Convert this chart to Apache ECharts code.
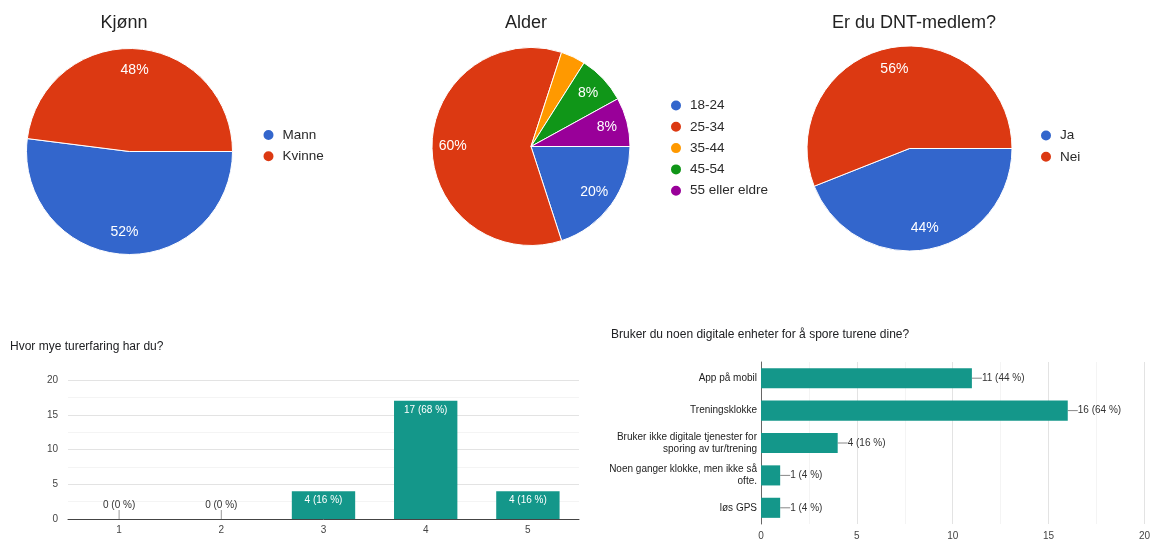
<!DOCTYPE html>
<html>
<head>
<meta charset="utf-8">
<script src="https://cdn.jsdelivr.net/npm/echarts@6/dist/echarts.min.js"></script>
<style>
  html, body { margin: 0; padding: 0; background: #fff; }
  #main { width: 1153px; height: 541px; }
</style>
</head>
<body>
<div id="main"></div>
<script>
// Survey results: number of respondents and answer counts per question
const respondents = 25;

const genderLabels = ['Mann', 'Kvinne'];
const genderCounts = [13, 12];

const ageLabels = ['18-24', '25-34', '35-44', '45-54', '55 eller eldre'];
const ageCounts = [5, 15, 1, 2, 2];

const memberLabels = ['Ja', 'Nei'];
const memberCounts = [11, 14];

const experienceLevels = ['1', '2', '3', '4', '5'];
const experienceCounts = [0, 0, 4, 17, 4];

const trackingOptions = [
  'App på mobil',
  'Treningsklokke',
  'Bruker ikke digitale tjenester for\nsporing av tur/trening',
  'Noen ganger klokke, men ikke så\nofte.',
  'løs GPS'
];
const trackingCounts = [11, 16, 4, 1, 1];

const FONT = '"Liberation Sans", Arial, sans-serif';
const PIE_COLORS = ['#3366cc', '#dc3912', '#ff9900', '#109618', '#990099'];
const BAR_COLOR = '#14978a';

const chart = echarts.init(document.getElementById('main'), null, { renderer: 'canvas' });

// Pie with percent labels pushed out to about three quarters of the radius
function pieSeries(names, counts, cx, cy, r) {
  return {
    type: 'pie',
    center: [cx, cy],
    radius: r,
    startAngle: 0,
    clockwise: true,
    animation: false,
    emphasis: { disabled: true },
    minShowLabelAngle: 20,
    itemStyle: { borderColor: '#fff', borderWidth: 1 },
    data: names.map((n, i) => ({ name: n, value: counts[i], itemStyle: { color: PIE_COLORS[i] } })),
    label: {
      show: true,
      position: 'inside',
      color: '#fff',
      fontSize: 14,
      fontFamily: FONT,
      formatter: p => Math.round(p.percent) + '%'
    },
    labelLine: { show: false },
    labelLayout: p => {
      const lx = p.labelRect.x + p.labelRect.width / 2;
      const ly = p.labelRect.y + p.labelRect.height / 2;
      const k = 1.49;
      return { x: cx + (lx - cx) * k, y: cy + (ly - cy) * k, align: 'center', verticalAlign: 'middle' };
    }
  };
}

function pieLegend(names, left, top) {
  return {
    data: names,
    orient: 'vertical',
    left: left,
    top: top,
    padding: 0,
    icon: 'circle',
    itemWidth: 12,
    itemHeight: 12,
    itemGap: 7.3,
    selectedMode: false,
    textStyle: { fontSize: 13.5, color: '#2a2a2a', fontFamily: FONT, padding: [0, 0, 0, 3] }
  };
}

const pctLabel = p => p.value + ' (' + Math.round(p.value / respondents * 100) + ' %)';
const gridLine = { show: true, lineStyle: { color: '#e3e3e3', width: 1 } };
const minorGridLine = { show: true, lineStyle: { color: '#f4f4f4', width: 1 } };
const axisText = { fontSize: 10, color: '#444', fontFamily: FONT };
const pieTitleStyle = { fontSize: 18, fontWeight: 'normal', color: '#222', fontFamily: FONT };
const barTitleStyle = { fontSize: 12, fontWeight: 'normal', color: '#202124', fontFamily: FONT };

const option = {
  backgroundColor: '#fff',
  animation: false,
  title: [
    { text: 'Kjønn', left: 124, top: 14, textAlign: 'center', padding: 0, textStyle: pieTitleStyle },
    { text: 'Alder', left: 526, top: 14, textAlign: 'center', padding: 0, textStyle: pieTitleStyle },
    { text: 'Er du DNT-medlem?', left: 914, top: 14, textAlign: 'center', padding: 0, textStyle: pieTitleStyle },
    { text: 'Hvor mye turerfaring har du?', left: 10, top: 341, padding: 0, textStyle: barTitleStyle },
    { text: 'Bruker du noen digitale enheter for å spore turene dine?', left: 611, top: 329, padding: 0, textStyle: barTitleStyle }
  ],
  legend: [
    pieLegend(genderLabels, 261.5, 128),
    pieLegend(ageLabels, 669, 98.5),
    pieLegend(memberLabels, 1039, 128.5)
  ],
  grid: [
    { left: 68, right: 574, top: 380, bottom: 22 },
    { left: 761, right: 5, top: 362, bottom: 12 }
  ],
  xAxis: [
    {
      gridIndex: 0, type: 'category', data: experienceLevels,
      axisLine: { lineStyle: { color: '#444' } },
      axisTick: { show: false },
      axisLabel: Object.assign({ margin: 6 }, axisText),
      splitLine: { show: false }
    },
    {
      gridIndex: 1, type: 'value', min: 0, max: 20, interval: 5,
      axisLine: { show: false }, axisTick: { show: false },
      axisLabel: Object.assign({ margin: 7 }, axisText),
      splitLine: gridLine,
      minorTick: { show: false, splitNumber: 2 },
      minorSplitLine: minorGridLine
    }
  ],
  yAxis: [
    {
      gridIndex: 0, type: 'value', min: 0, max: 20, interval: 5,
      axisLine: { show: false }, axisTick: { show: false },
      axisLabel: Object.assign({ margin: 10 }, axisText),
      splitLine: gridLine,
      minorTick: { show: false, splitNumber: 2 },
      minorSplitLine: minorGridLine
    },
    {
      gridIndex: 1, type: 'category', data: trackingOptions, inverse: true,
      axisLine: { show: true, lineStyle: { color: '#666' } },
      axisTick: { show: false },
      axisLabel: { fontSize: 10, color: '#222', fontFamily: FONT, margin: 4, lineHeight: 12, align: 'right' }
    }
  ],
  series: [
    pieSeries(genderLabels, genderCounts, 129.5, 151.5, 103),
    pieSeries(ageLabels, ageCounts, 531, 146.5, 99),
    pieSeries(memberLabels, memberCounts, 909.5, 148.5, 102.5),
    {
      type: 'bar', xAxisIndex: 0, yAxisIndex: 0,
      barWidth: '62%',
      itemStyle: { color: BAR_COLOR },
      emphasis: { disabled: true },
      data: experienceCounts.map(v => v === 0
        ? { value: v, label: { position: 'top', color: '#333', distance: 5 },
            labelLine: { show: true, lineStyle: { color: '#999', width: 1 } } }
        : v),
      label: {
        show: true, position: 'insideTop', distance: 4,
        color: '#fff', fontSize: 10, fontFamily: FONT, formatter: pctLabel
      },
      labelLayout: p => experienceCounts[p.dataIndex] === 0 ? { dy: -4 } : {}
    },
    {
      type: 'bar', xAxisIndex: 1, yAxisIndex: 1,
      barWidth: '62%',
      itemStyle: { color: BAR_COLOR },
      emphasis: { disabled: true },
      data: trackingCounts,
      label: {
        show: true, position: 'right', distance: 0,
        color: '#333', fontSize: 10, fontFamily: FONT, formatter: pctLabel
      },
      labelLine: { show: true, lineStyle: { color: '#888', width: 1 } },
      labelLayout: () => ({ dx: 10 })
    }
  ]
};

chart.setOption(option);
</script>
</body>
</html>
